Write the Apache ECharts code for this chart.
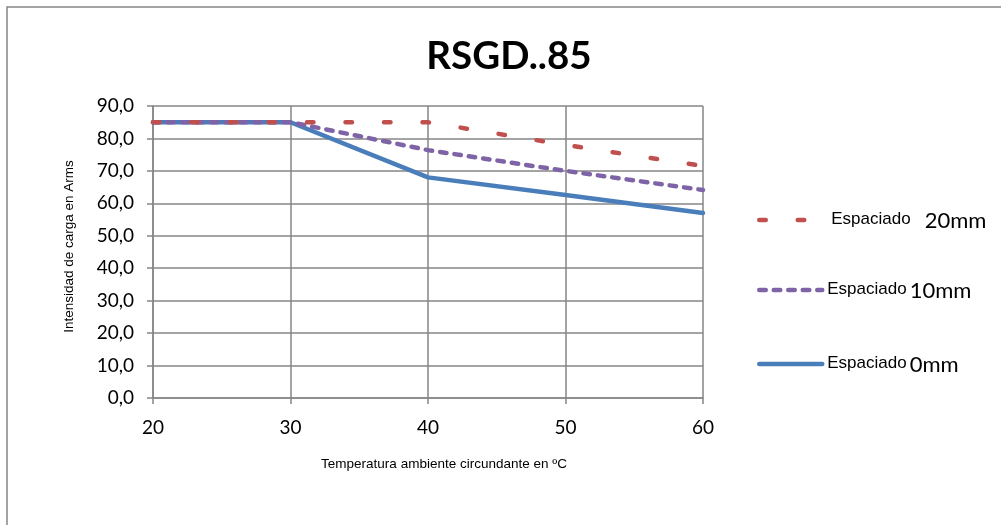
<!DOCTYPE html>
<html>
<head>
<meta charset="utf-8">
<script src="https://cdn.jsdelivr.net/npm/echarts@6/dist/echarts.min.js"></script>
<style>
html,body{margin:0;padding:0;background:#fff;}
#chart{width:1001px;height:525px;}
</style>
</head>
<body>
<div id="chart"></div>
<script>
var temperatures = [20, 30, 40, 50, 60];
var esp20 = [85, 85, 85, 78, 71.5];
var esp10 = [85, 85, 76.4, 70, 64.1];
var esp0 = [85, 85, 68, 62.6, 57];
var seriesNames = ['Espaciado 20mm', 'Espaciado 10mm', 'Espaciado 0mm'];
var legendLabels = {
  'Espaciado 20mm': ['Espaciado', '20mm'],
  'Espaciado 10mm': ['Espaciado', '10mm'],
  'Espaciado 0mm': ['Espaciado', '0mm']
};

function pairs(ys) { return temperatures.map(function (t, i) { return [t, ys[i]]; }); }

var chart = echarts.init(document.getElementById('chart'), null, {renderer: 'canvas'});

function legendFor(name, top, pad) {
  return {
    data: [name], left: 757, top: top, orient: 'vertical', padding: 0,
    itemWidth: pad.w, itemHeight: 14, itemGap: 0,
    formatter: function (n) {
      var p = legendLabels[n];
      return '{a|' + p[0] + '}{s|}{b|' + p[1] + '}';
    },
    lineStyle: {width: 4.5, cap: 'round'},
    textStyle: {
      padding: [0, 0, 0, pad.left],
      rich: {
        a: {fontFamily: 'Liberation Sans', fontSize: 17, color: '#000', verticalAlign: 'middle', padding: [0, 0, 2, 0]},
        s: {width: pad.gap},
        b: {fontFamily: 'Lato', fontSize: 22, color: '#000', verticalAlign: 'middle', padding: [2, 0, 0, 0]}
      }
    },
    itemStyle: {opacity: 0}
  };
}

var option = {
  backgroundColor: '#fff',
  animation: false,
  title: {
    text: 'RSGD..85', left: 504, top: 32, textAlign: 'center',
    textStyle: {fontFamily: 'Lato', fontWeight: 'bold', fontSize: 38.5, color: '#000'}
  },
  graphic: [{
    type: 'rect', shape: {x: 7, y: 7, width: 1010, height: 540},
    style: {fill: 'none', stroke: '#868686', lineWidth: 1.5}, silent: true
  }],
  legend: [
    legendFor('Espaciado 20mm', 210, {w: 51, left: 16, gap: 14}),
    legendFor('Espaciado 10mm', 280, {w: 63, left: 0, gap: 3}),
    legendFor('Espaciado 0mm', 354, {w: 63, left: 0, gap: 3})
  ],
  grid: {left: 153, right: 298, top: 106, bottom: 127},
  xAxis: {
    type: 'value', min: 20, max: 60, interval: 10,
    name: 'Temperatura ambiente circundante en ºC',
    nameLocation: 'middle', nameGap: 59,
    nameTextStyle: {fontFamily: 'Liberation Sans', fontSize: 13.5, color: '#000', padding: [0, 0, 0, 32]},
    axisLine: {onZero: false, lineStyle: {color: '#868686', width: 1.5}},
    axisTick: {show: true, length: 6, inside: false, lineStyle: {color: '#868686', width: 1.5}},
    axisLabel: {fontFamily: 'Lato', fontSize: 19, color: '#000', margin: 20},
    splitLine: {show: true, lineStyle: {color: '#868686', width: 1.5}}
  },
  yAxis: {
    type: 'value', min: 0, max: 90, interval: 10,
    name: 'Intensidad de carga en Arms',
    nameLocation: 'middle', nameGap: 77, nameRotate: 90,
    nameTextStyle: {fontFamily: 'Liberation Sans', fontSize: 13.5, color: '#000', padding: [0, 0, 0, 11]},
    axisLine: {show: true, lineStyle: {color: '#868686', width: 1.5}},
    axisTick: {show: true, length: 6, lineStyle: {color: '#868686', width: 1.5}},
    axisLabel: {fontFamily: 'Lato', fontSize: 19, color: '#000', margin: 19,
      formatter: function (v) { return v.toFixed(1).replace('.', ','); }},
    splitLine: {show: true, lineStyle: {color: '#868686', width: 1.5}}
  },
  series: [
    {name: seriesNames[2], type: 'line', data: pairs(esp0), symbol: 'none', z: 2,
      color: '#4a7ebb',
      lineStyle: {color: '#4a7ebb', width: 4.5, cap: 'round'}},
    {name: seriesNames[1], type: 'line', data: pairs(esp10), symbol: 'none', z: 3,
      color: '#7e64a6',
      lineStyle: {color: '#7e64a6', width: 4.5, type: [6.5, 8], cap: 'round'}},
    {name: seriesNames[0], type: 'line', data: pairs(esp20), symbol: 'none', z: 4,
      color: '#c0504d',
      lineStyle: {color: '#c0504d', width: 4.5, type: [6.5, 32], cap: 'round'}}
  ]
};
chart.setOption(option);
</script>
</body>
</html>
